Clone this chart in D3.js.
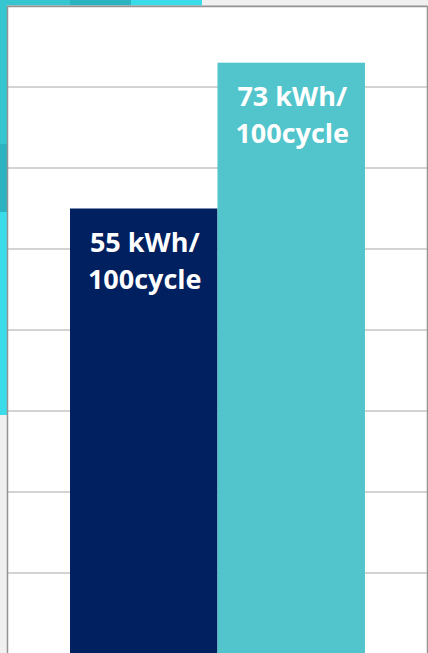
<!DOCTYPE html>
<html>
<head>
<meta charset="utf-8">
<script src="https://cdn.jsdelivr.net/npm/d3@7"></script>
<style>
  html, body { margin: 0; padding: 0; background: #f0f0f0; }
  svg { display: block; }
</style>
</head>
<body>
<svg id="chart" width="428" height="653"></svg>
<script>
// Energy consumption per 100 cycles for two machines
const seriesNames = ["Machine A", "Machine B"];
const values = [55, 73];
const valueLabels = [["55 kWh/", "100cycle"], ["73 kWh/", "100cycle"]];
const yTicks = [0, 10, 20, 30, 40, 50, 60, 70, 80];
const barColors = ["#002060", "#52c4cb"];

const W = 428, H = 653;
const frame = { left: 7, top: 6, right: 427, bottom: 654 };

const svg = d3.select("#chart");

// page background with coloured accent strips along the top and left edges
svg.append("rect").attr("width", W).attr("height", H).attr("fill", "#f0f0f0");
const topStrip = [[0, 70, "#36c6d0"], [70, 131, "#2bb4c0"], [131, 202, "#3bdce9"]];
topStrip.forEach(([a, b, c]) =>
  svg.append("rect").attr("x", a).attr("y", 0).attr("width", b - a).attr("height", 6).attr("fill", c));
const leftStrip = [[0, 144, "#36c6d0"], [144, 212, "#2bb4c0"], [212, 415, "#3bdce9"]];
leftStrip.forEach(([a, b, c]) =>
  svg.append("rect").attr("x", 0).attr("y", a).attr("width", 7).attr("height", b - a).attr("fill", c));

// chart frame
svg.append("rect")
  .attr("x", frame.left).attr("y", frame.top)
  .attr("width", frame.right - frame.left).attr("height", frame.bottom - frame.top + 10)
  .attr("fill", "#ffffff");

const y = d3.scaleLinear().domain([0, 80]).range([frame.bottom, frame.top]);
const x = d3.scaleBand().domain(seriesNames).range([70, 365]).paddingInner(0).paddingOuter(0);

// horizontal gridlines
svg.append("g")
  .selectAll("line")
  .data(yTicks)
  .join("line")
  .attr("x1", frame.left).attr("x2", frame.right)
  .attr("y1", d => y(d)).attr("y2", d => y(d))
  .attr("stroke", "#c4c4c4")
  .attr("stroke-width", 1.6);

// frame border
svg.append("path")
  .attr("d", `M${frame.left + 0.5},${H + 2}V${frame.top + 0.5}H${frame.right + 0.5}V${H + 2}`)
  .attr("fill", "none")
  .attr("stroke", "#939393")
  .attr("stroke-width", 1.5);

// bars
svg.append("g")
  .selectAll("rect")
  .data(values)
  .join("rect")
  .attr("x", (d, i) => x(seriesNames[i]))
  .attr("y", d => y(d))
  .attr("width", x.bandwidth())
  .attr("height", d => y(0) - y(d))
  .attr("fill", (d, i) => barColors[i]);

// value labels inside the top of each bar
const labels = svg.append("g")
  .selectAll("text")
  .data(values)
  .join("text")
  .attr("x", (d, i) => x(seriesNames[i]) + x.bandwidth() / 2 + 1)
  .attr("y", d => y(d) + 43)
  .attr("text-anchor", "middle")
  .attr("fill", "#ffffff")
  .attr("font-family", "'Open Sans', sans-serif")
  .attr("font-weight", 700)
  .attr("font-size", 27);

labels.selectAll("tspan")
  .data((d, i) => valueLabels[i])
  .join("tspan")
  .attr("x", function () { return d3.select(this.parentNode).attr("x"); })
  .attr("dy", (d, j) => j === 0 ? 0 : 37)
  .text(d => d);
</script>
</body>
</html>
